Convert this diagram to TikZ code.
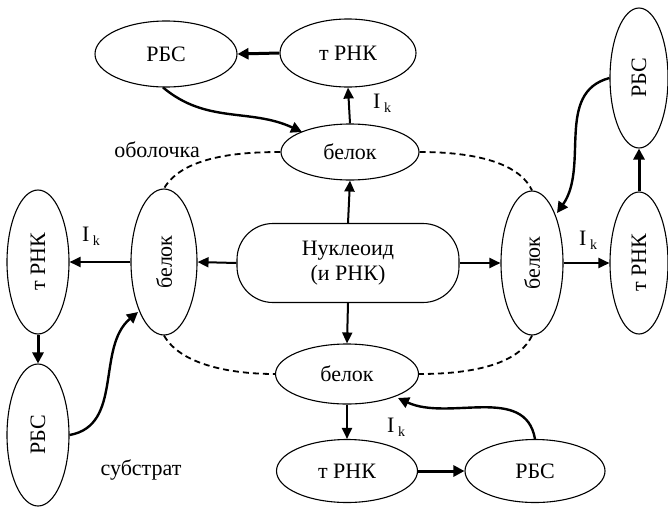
\documentclass[tikz,border=0pt]{standalone}
\usepackage{fontspec}
\setmainfont{Liberation Serif}
\newfontfamily\tnr{Liberation Serif}
\usetikzlibrary{shapes.geometric,arrows.meta}
\begin{document}
\begin{tikzpicture}[x=1pt,y=-1pt,
  every node/.style={font=\tnr\fontsize{22}{25}\selectfont},
  ell/.style={draw,ellipse,line width=1.1pt,fill=white,inner sep=0pt},
  hor/.style={ell,minimum width=140pt,minimum height=64pt},
  ver/.style={ell,minimum width=62pt,minimum height=144pt},
  arr/.style={line width=2pt,-{Triangle[length=11pt,width=10pt]}},
  tarr/.style={line width=3pt,-{Triangle[length=11pt,width=11pt]}},
  carr/.style={line width=2.4pt,-{Triangle[length=11pt,width=11pt]}},
  dsh/.style={line width=1.8pt,dash pattern=on 6pt off 4pt},
  lbl/.style={inner sep=0pt}]
\useasboundingbox (0,0) rectangle (668,509);
\newcommand{\Ik}{I\,\raisebox{-4pt}{\fontsize{14}{14}\selectfont k}}
% nodes
\node[hor,minimum width=142pt,minimum height=66pt] (rbsT) at (166,54) {РБС};
\node[hor,minimum width=136pt,minimum height=68pt] (trT) at (348,53) {т РНК};
\node[hor,minimum width=138pt,minimum height=56pt] (bT) at (350,152) {белок};
\node[draw,line width=1.1pt,fill=white,rounded corners=36pt,minimum width=222pt,minimum height=79pt,align=center,inner sep=0pt] (nuc) at (348,263) {Нуклеоид\\(и РНК)};
\node[ver,minimum width=66pt,minimum height=146pt] (bL) at (164,262) {\rotatebox{90}{белок}};
\node[ver] (trL) at (38,262) {\rotatebox{90}{т РНК}};
\node[ver,minimum height=142pt] (rbsL) at (38,435) {\rotatebox{90}{РБС}};
\node[ver,minimum height=144pt] (bR) at (532,263) {\rotatebox{90}{белок}};
\node[ver,minimum width=58pt,minimum height=142pt] (trR) at (639,263) {\rotatebox{90}{т РНК}};
\node[ver,minimum width=58pt,minimum height=140pt] (rbsR) at (639,78) {\rotatebox{90}{РБС}};
\node[hor,minimum width=143pt,minimum height=60pt] (bB) at (347,374) {белок};
\node[hor,minimum width=141pt,minimum height=63pt] (trB) at (347,471) {т РНК};
\node[hor,minimum width=140pt,minimum height=63pt] (rbsB) at (535,471) {РБС};
% dashed envelope
\draw[dsh] (bT.west) to[out=180,in=60,looseness=0.8] (bL.north);
\draw[dsh] (bT.east) to[out=0,in=115,looseness=0.8] (bR.north);
\draw[dsh] (bL.south) to[out=-60,in=180,looseness=0.8] (bB.west);
\draw[dsh] (bR.south) to[out=-115,in=0,looseness=0.8] (bB.east);
% straight arrows
\draw[tarr] (trT.west) -- (rbsT.east);
\draw[arr] (bT.north) -- (trT.south);
\draw[arr] (nuc.north) -- (bT.south);
\draw[arr] (nuc.south) -- (bB.north);
\draw[arr] (nuc.west) -- (bL.east);
\draw[arr] (nuc.east) -- (bR.west);
\draw[arr] (bL.west) -- (trL.east);
\draw[tarr] (trL.south) -- (rbsL.north);
\draw[arr] (bR.east) -- (trR.west);
\draw[tarr] (trR.north) -- (rbsR.south);
\draw[arr] (bB.south) -- (trB.north);
\draw[tarr] (trB.east) -- (rbsB.west);
% curved arrows
\coordinate (cT) at (302,132);
\coordinate (cL) at (138,312);
\coordinate (cR) at (557,213);
\coordinate (cB) at (398,398);
\draw[carr] (rbsT.-95) to[out=-40,in=155] (cT);
\draw[carr] (rbsL.east) to[out=10,in=220] (cL);
\draw[carr] (rbsR.west) to[out=195,in=55] (cR);
\draw[carr] (rbsB.north) to[out=100,in=-25] (cB);
% labels
\node[lbl] (ikT) at (382,103) {\Ik};
\node[lbl] (ikL) at (91,236) {\Ik};
\node[lbl] (ikR) at (588,240) {\Ik};
\node[lbl] (ikB) at (396,427) {\Ik};
\node[lbl] (obol) at (157,150) {оболочка};
\node[lbl] (subs) at (141,470) {субстрат};
\end{tikzpicture}
\end{document}
